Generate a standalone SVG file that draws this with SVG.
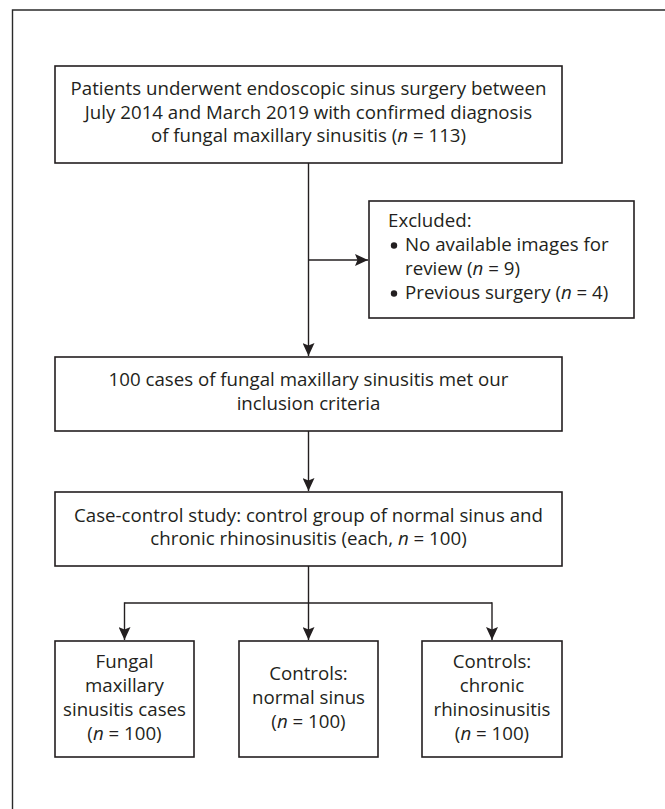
<svg xmlns="http://www.w3.org/2000/svg" width="665" height="809" viewBox="0 0 665 809">
<style>
  .frame { fill: none; stroke: #2a2a2a; stroke-width: 1.4; }
  .box { fill: #ffffff; stroke: #231f20; stroke-width: 1.6; }
  .ln { fill: none; stroke: #231f20; stroke-width: 1.4; }
  .dot { fill: #231f20; }
  text { font-family: "Open Sans", "Noto Sans", "Liberation Sans", sans-serif; font-size: 18.7px; fill: #231f20; }
  .c { text-anchor: middle; }
  .i { font-style: italic; }
</style>
<defs>
  <marker id="arr" viewBox="0 0 13 12" refX="13" refY="6" markerWidth="13" markerHeight="12" markerUnits="userSpaceOnUse" orient="auto">
    <path d="M0,0 L13,6 L0,12 L2.5,6 Z" fill="#231f20"/>
  </marker>
</defs>
<rect width="665" height="809" fill="#ffffff"/>
<path class="frame" d="M12.5,809 L12.5,10 L665,10"/>

<g id="connectors">
  <path class="ln" d="M308.5,163 L308.5,356" marker-end="url(#arr)"/>
  <path class="ln" d="M308.5,260 L368,260" marker-end="url(#arr)"/>
  <path class="ln" d="M308.5,431 L308.5,491" marker-end="url(#arr)"/>
  <path class="ln" d="M308.5,566 L308.5,640" marker-end="url(#arr)"/>
  <path class="ln" d="M124.5,603 L492,603"/>
  <path class="ln" d="M124.5,602.3 L124.5,640" marker-end="url(#arr)"/>
  <path class="ln" d="M492,602.3 L492,640" marker-end="url(#arr)"/>
</g>

<g id="node-patients">
  <rect class="box" x="55" y="66" width="507" height="97"/>
  <text class="c" x="308.5" y="95">Patients underwent endoscopic sinus surgery between</text>
  <text class="c" x="308.5" y="118.5">July 2014 and March 2019 with confirmed diagnosis</text>
  <text class="c" x="308.5" y="142">of fungal maxillary sinusitis (<tspan class="i">n</tspan> = 113)</text>
</g>

<g id="node-excluded">
  <rect class="box" x="369" y="201" width="265" height="117"/>
  <text x="388" y="227">Excluded:</text>
  <circle class="dot" cx="394" cy="245.5" r="3.2"/>
  <text x="405" y="251">No available images for</text>
  <text x="405" y="275">review (<tspan class="i">n</tspan> = 9)</text>
  <circle class="dot" cx="394" cy="293.5" r="3.2"/>
  <text x="405" y="299">Previous surgery (<tspan class="i">n</tspan> = 4)</text>
</g>

<g id="node-included">
  <rect class="box" x="55" y="357" width="507" height="74"/>
  <text class="c" x="308.5" y="386">100 cases of fungal maxillary sinusitis met our</text>
  <text class="c" x="308.5" y="410">inclusion criteria</text>
</g>

<g id="node-casecontrol">
  <rect class="box" x="55" y="492" width="507" height="74"/>
  <text class="c" x="308.5" y="522">Case-control study: control group of normal sinus and</text>
  <text class="c" x="308.5" y="545">chronic rhinosinusitis (each, <tspan class="i">n</tspan> = 100)</text>
</g>

<g id="node-fungal">
  <rect class="box" x="55" y="641" width="139" height="116"/>
  <text class="c" x="124.5" y="668">Fungal</text>
  <text class="c" x="124.5" y="692">maxillary</text>
  <text class="c" x="124.5" y="716">sinusitis cases</text>
  <text class="c" x="124.5" y="740">(<tspan class="i">n</tspan> = 100)</text>
</g>

<g id="node-normal">
  <rect class="box" x="239" y="641" width="139" height="116"/>
  <text class="c" x="308.5" y="680">Controls:</text>
  <text class="c" x="308.5" y="704">normal sinus</text>
  <text class="c" x="308.5" y="728">(<tspan class="i">n</tspan> = 100)</text>
</g>

<g id="node-chronic">
  <rect class="box" x="422" y="641" width="140" height="116"/>
  <text class="c" x="492" y="668">Controls:</text>
  <text class="c" x="492" y="692">chronic</text>
  <text class="c" x="492" y="716">rhinosinusitis</text>
  <text class="c" x="492" y="740">(<tspan class="i">n</tspan> = 100)</text>
</g>
</svg>
